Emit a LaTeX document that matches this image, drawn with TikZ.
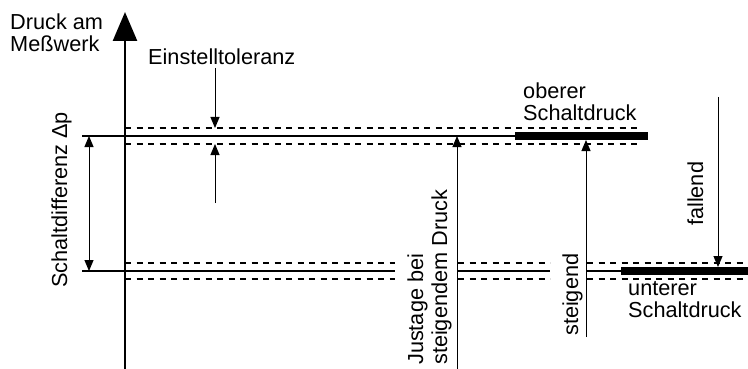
\documentclass[tikz,border=0pt]{standalone}
\usepackage{fontspec}
\setmainfont{Liberation Sans}
\usetikzlibrary{arrows.meta}
\begin{document}
\begin{tikzpicture}[x=1pt,y=-1pt,
  txt/.style={inner sep=0pt, font=\fontsize{21.7}{22}\selectfont},
  axisline/.style={line width=2.6pt, -{Triangle[length=29pt,width=24pt]}},
  lvl/.style={line width=2pt},
  thicklvl/.style={line width=7.5pt},
  tol/.style={line width=1.3pt, dash pattern=on 6pt off 5.5pt},
  arr/.style={line width=1pt, -{Triangle[length=11pt,width=9pt]}},
  darr/.style={line width=1pt, {Triangle[length=11pt,width=9pt]}-{Triangle[length=11pt,width=9pt]}}]
\useasboundingbox (0,0) rectangle (748,369);
% axis
\coordinate (ax0) at (125,369);
\coordinate (ax1) at (125,12);
\draw[axisline] (ax0) -- (ax1);
% upper level
\coordinate (uL) at (82,136);
\coordinate (uT) at (515,136);
\coordinate (uR) at (648,136);
\draw[lvl] (uL) -- (uT);
\draw[thicklvl] (uT) -- (uR);
\coordinate (ut1) at (125,128); \coordinate (ut2) at (640,128);
\coordinate (ub1) at (125,144); \coordinate (ub2) at (640,144);
\draw[tol] (ut1) -- (ut2);
\draw[tol] (ub1) -- (ub2);
% lower level
\coordinate (lL) at (82,271);
\coordinate (lA) at (395,271);
\coordinate (lB) at (458,271);
\coordinate (lC) at (550,271);
\coordinate (lD) at (587,271);
\coordinate (lT) at (621,271);
\coordinate (lR) at (748,271);
\draw[lvl] (lL) -- (lA);
\draw[lvl] (lB) -- (lC);
\draw[lvl] (lD) -- (lT);
\draw[thicklvl] (lT) -- (lR);
\foreach \yy in {263,279}{
  \draw[tol] (125,\yy) -- (395,\yy);
  \draw[tol] (458,\yy) -- (550,\yy);
  \draw[tol] (587,\yy) -- (748,\yy);
}
% arrows
\coordinate (sd1) at (89,136); \coordinate (sd2) at (89,271);
\draw[darr] (sd1) -- (sd2);
\coordinate (et0) at (215,68); \coordinate (et1) at (215,128);
\draw[arr] (et0) -- (et1);
\coordinate (eb0) at (215,203); \coordinate (eb1) at (215,144);
\draw[arr] (eb0) -- (eb1);
\coordinate (ju0) at (457,369); \coordinate (ju1) at (457,136);
\draw[arr] (ju0) -- (ju1);
\coordinate (st0) at (586,337); \coordinate (st1) at (586,140);
\draw[arr] (st0) -- (st1);
\coordinate (fa0) at (718,97); \coordinate (fa1) at (718,267);
\draw[arr] (fa0) -- (fa1);
% texts
\node[txt, anchor=base west] (druck1) at (10,30) {Druck am};
\node[txt, anchor=base west] (druck2) at (10,52) {Meßwerk};
\node[txt, anchor=base west] (einst) at (148,65) {Einstelltoleranz};
\node[txt, anchor=base west] (ob1) at (523,99) {oberer};
\node[txt, anchor=base west] (ob2) at (523,121) {Schaltdruck};
\node[txt, anchor=base west] (un1) at (628,295) {unterer};
\node[txt, anchor=base west] (un2) at (628,317) {Schaltdruck};
\node[txt, rotate=90, anchor=base west] (sdiff) at (67,288) {Schaltdifferenz Δp};
\node[txt, rotate=90, anchor=base west] (jus1) at (423,365) {Justage bei};
\node[txt, rotate=90, anchor=base west] (jus2) at (447,365) {steigendem Druck};
\node[txt, rotate=90, anchor=base west] (steig) at (578,336) {steigend};
\node[txt, rotate=90, anchor=base west] (fall) at (703,226) {fallend};
\end{tikzpicture}
\end{document}
